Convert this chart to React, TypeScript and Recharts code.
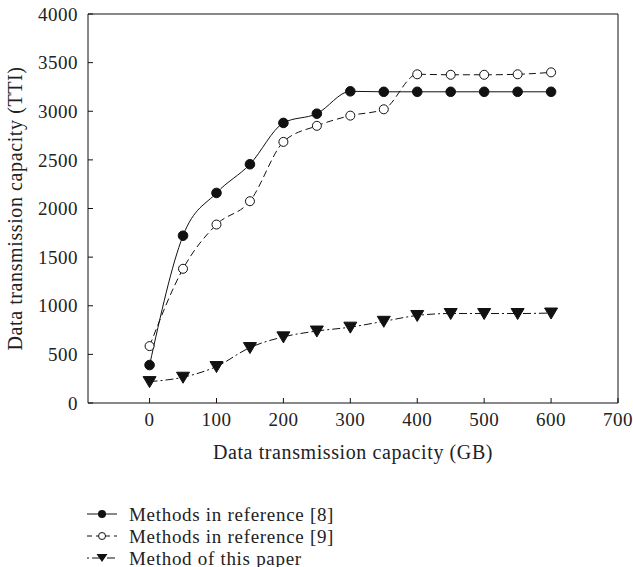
import { LineChart, Line, XAxis, YAxis, Legend, ReferenceLine } from "recharts";

const capacityGB = [0, 50, 100, 150, 200, 250, 300, 350, 400, 450, 500, 550, 600];
const ref8 = [390, 1720, 2160, 2455, 2880, 2975, 3205, 3200, 3200, 3200, 3200, 3200, 3200];
const ref9 = [585, 1380, 1835, 2075, 2685, 2850, 2955, 3020, 3380, 3375, 3375, 3380, 3400];
const thisPaper = [220, 265, 375, 570, 680, 740, 780, 840, 900, 920, 920, 920, 925];

const xTicks = [0, 100, 200, 300, 400, 500, 600, 700];
const yTicks = [0, 500, 1000, 1500, 2000, 2500, 3000, 3500, 4000];

const seriesNames = [
  "Methods in reference [8]",
  "Methods in reference [9]",
  "Method of this paper",
];

const data = capacityGB.map((x, i) => ({
  x,
  ref8: ref8[i],
  ref9: ref9[i],
  ours: thisPaper[i],
}));

const FONT = "'Liberation Serif', 'Times New Roman', serif";
const tickStyle = { fill: "#222", fontSize: 19, fontFamily: FONT, letterSpacing: 0.5 };
const titleStyle = { fill: "#222", fontSize: 20, fontFamily: FONT, letterSpacing: 0.6 };

const FilledDot = (props: any) => {
  const { cx, cy } = props;
  if (cx == null || cy == null) return null;
  return <circle cx={cx} cy={cy} r={4.8} fill="#111" stroke="#111" />;
};

const OpenDot = (props: any) => {
  const { cx, cy } = props;
  if (cx == null || cy == null) return null;
  return <circle cx={cx} cy={cy} r={4.5} fill="#fff" stroke="#111" strokeWidth={1} />;
};

const TriDot = (props: any) => {
  const { cx, cy } = props;
  if (cx == null || cy == null) return null;
  const w = 6.5;
  return (
    <path
      d={`M${cx - w},${cy - 5} L${cx + w},${cy - 5} L${cx},${cy + 6} Z`}
      fill="#111"
      stroke="#111"
    />
  );
};

const legendRows = [
  { name: seriesNames[0], dash: undefined, marker: "filled" },
  { name: seriesNames[1], dash: "5 4", marker: "open" },
  { name: seriesNames[2], dash: "2 3 8 2", marker: "tri" },
];

function LegendBox() {
  return (
    <div
      style={{
        fontFamily: FONT,
        fontSize: 19,
        letterSpacing: 0.7,
        lineHeight: 1,
        color: "#222",
      }}
    >
      {legendRows.map((r) => (
        <div key={r.name} style={{ display: "flex", alignItems: "center", height: 22 }}>
          <svg width={44} height={20} style={{ flex: "none" }}>
            <line x1={2} y1={10} x2={32} y2={10} stroke="#111" strokeDasharray={r.dash} />
            {r.marker === "filled" && <circle cx={17} cy={10} r={4} fill="#111" />}
            {r.marker === "open" && (
              <circle cx={17} cy={10} r={3.5} fill="#fff" stroke="#111" />
            )}
            {r.marker === "tri" && <path d="M11.5,6 L22.5,6 L17,14 Z" fill="#111" />}
          </svg>
          <span style={{ whiteSpace: "nowrap" }}>{r.name}</span>
        </div>
      ))}
    </div>
  );
}

export default function App() {
  return (
    <div style={{ position: "absolute", left: 0, top: 0, background: "#fff" }}>
      <LineChart
        width={633}
        height={567}
        data={data}
        margin={{ top: 14, right: 15, left: 0, bottom: 104 }}
      >
        <XAxis
          dataKey="x"
          type="number"
          domain={[-92, 700]}
          ticks={xTicks}
          tickSize={-5}
          tickMargin={15}
          height={60}
          axisLine={{ stroke: "#111" }}
          tickLine={{ stroke: "#111" }}
          tick={tickStyle}
          label={{
            value: "Data transmission capacity (GB)",
            position: "insideBottom",
            offset: 4,
            style: titleStyle,
          }}
        />
        <YAxis
          type="number"
          domain={[0, 4000]}
          ticks={yTicks}
          width={88}
          tickSize={-5}
          tickMargin={15}
          axisLine={{ stroke: "#111" }}
          tickLine={{ stroke: "#111" }}
          tick={tickStyle}
          label={{
            value: "Data transmission capacity (TTI)",
            angle: -90,
            position: "insideLeft",
            offset: 15,
            style: { ...titleStyle, textAnchor: "middle" },
          }}
        />
        <ReferenceLine y={4000} stroke="#111" ifOverflow="visible" />
        <ReferenceLine x={700} stroke="#111" ifOverflow="visible" />
        <Line
          type="monotone"
          dataKey="ref8"
          name={seriesNames[0]}
          stroke="#111"
          strokeWidth={1}
          dot={<FilledDot />}
          isAnimationActive={false}
        />
        <Line
          type="monotone"
          dataKey="ref9"
          name={seriesNames[1]}
          stroke="#111"
          strokeWidth={1}
          strokeDasharray="7 4"
          dot={<OpenDot />}
          isAnimationActive={false}
        />
        <Line
          type="monotone"
          dataKey="ours"
          name={seriesNames[2]}
          stroke="#111"
          strokeWidth={1}
          strokeDasharray="8 3 2 3"
          dot={<TriDot />}
          isAnimationActive={false}
        />
        <Legend
          layout="vertical"
          align="center"
          verticalAlign="middle"
          wrapperStyle={{ left: 85, top: 503, width: 320 }}
          content={() => <LegendBox />}
        />
      </LineChart>
    </div>
  );
}
